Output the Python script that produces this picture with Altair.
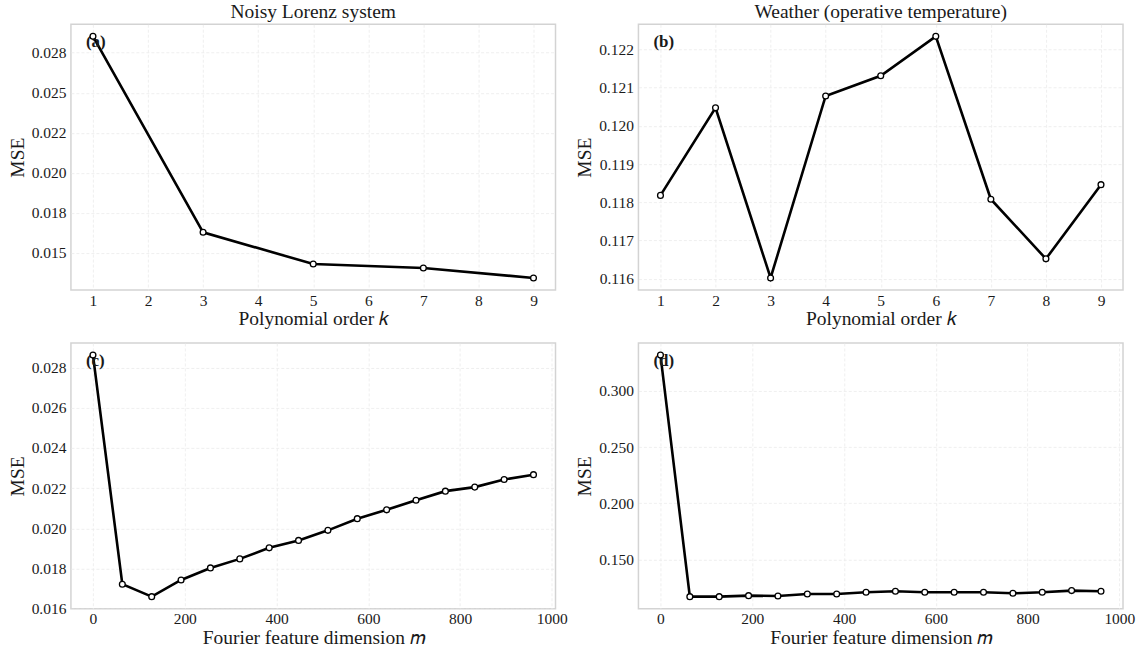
import altair as alt
import pandas as pd

# ---- data ----
poly_k_lorenz = [1, 3, 5, 7, 9]
mse_poly_lorenz = [0.02852, 0.01629, 0.01431, 0.01406, 0.01344]

poly_k_weather = [1, 2, 3, 4, 5, 6, 7, 8, 9]
mse_poly_weather = [0.11818, 0.12047, 0.11602, 0.12078, 0.12131, 0.12234, 0.11808, 0.11652, 0.11846]

fourier_m = [0, 64, 128, 192, 256, 320, 384, 448, 512, 576, 640, 704, 768, 832, 896, 960]
mse_fourier_lorenz = [0.02862, 0.01722, 0.01660, 0.01743, 0.01803, 0.01848, 0.01903, 0.01940,
                      0.01990, 0.02048, 0.02092, 0.02140, 0.02185, 0.02205, 0.02243, 0.02267]
mse_fourier_weather = [0.3317, 0.1171, 0.1171, 0.1180, 0.1177, 0.1195, 0.1195, 0.1210,
                       0.1219, 0.1210, 0.1210, 0.1210, 0.1201, 0.1210, 0.1225, 0.1219]

poly_ticks = [1, 2, 3, 4, 5, 6, 7, 8, 9]
fourier_ticks = [0, 200, 400, 600, 800, 1000]
yticks_a = [0.015, 0.0175, 0.02, 0.0225, 0.025, 0.0275]
yticks_b = [0.116, 0.117, 0.118, 0.119, 0.120, 0.121, 0.122]
yticks_c = [0.016, 0.018, 0.020, 0.022, 0.024, 0.026, 0.028]
yticks_d = [0.150, 0.200, 0.250, 0.300]

titles = ["Noisy Lorenz system", "Weather (operative temperature)"]
labels = ["(a)", "(b)", "(c)", "(d)"]
xtitle_poly = "Polynomial order \U0001D458"
xtitle_fourier = "Fourier feature dimension \U0001D45A"

FONT = "Liberation Serif"
TXT = "#1a1a1a"
W, H = 485, 266


def margin_domain(vals, frac=0.05):
    lo, hi = min(vals), max(vals)
    pad = (hi - lo) * frac
    return [lo - pad, hi + pad]


def axis(label_pad, title_pad, **kw):
    return alt.Axis(labelFont=FONT, titleFont=FONT, labelFontSize=15.5, titleFontSize=19.5,
                    labelColor=TXT, titleColor=TXT, titleFontWeight="normal",
                    domain=False, ticks=False, grid=True, gridColor="#ebebeb",
                    gridDash=[3, 2], gridWidth=0.8, labelPadding=label_pad,
                    titlePadding=title_pad, **kw)


def panel(xs, ys, label, xtitle, xticks, yticks, xdom, title=None):
    df = pd.DataFrame({"x": xs, "y": ys})
    ydom = margin_domain(ys)
    xenc = alt.X("x:Q", scale=alt.Scale(domain=xdom, nice=False, zero=False),
                 axis=axis(3, 1, values=xticks, title=xtitle, format="d"))
    yenc = alt.Y("y:Q", scale=alt.Scale(domain=ydom, nice=False, zero=False),
                 axis=axis(5, 4, values=yticks, format=".3f", title="MSE"))
    base = alt.Chart(df).encode(x=xenc, y=yenc)
    line = base.mark_line(color="black", strokeWidth=2.6)
    pts = base.mark_circle(fill="white", stroke="black", strokeWidth=1.3, size=34, opacity=1)
    txt = alt.Chart(pd.DataFrame({"t": [label]})).mark_text(
        font=FONT, fontWeight="bold", fontSize=17, align="left", baseline="middle", color=TXT
    ).encode(x=alt.value(15), y=alt.value(18), text="t:N")
    ch = alt.layer(line, txt, pts).properties(width=W, height=H)
    if title:
        ch = ch.properties(title=alt.TitleParams(title, font=FONT, fontSize=19.5,
                                                 fontWeight="normal", color=TXT, offset=2))
    return ch


a = panel(poly_k_lorenz, mse_poly_lorenz, labels[0], xtitle_poly, poly_ticks, yticks_a,
          [0.6, 9.4], titles[0])
b = panel(poly_k_weather, mse_poly_weather, labels[1], xtitle_poly, poly_ticks, yticks_b,
          [0.6, 9.4], titles[1])
c = panel(fourier_m, mse_fourier_lorenz, labels[2], xtitle_fourier, fourier_ticks, yticks_c,
          margin_domain(fourier_m))
d = panel(fourier_m, mse_fourier_weather, labels[3], xtitle_fourier, fourier_ticks, yticks_d,
          margin_domain(fourier_m))

chart = alt.concat(a, b, c, d, columns=2, spacing={"row": 13, "column": 5}).properties(
    padding={"left": 6, "top": 0, "right": 5, "bottom": 0}
).configure(
    font=FONT
).configure_view(
    stroke="#d3d3d3", strokeWidth=1.5
).configure_title(
    font=FONT, fontSize=19.5, fontWeight="normal", color=TXT, anchor="middle", offset=2
)

chart.save("out.html", embed_options={"renderer": "svg", "actions": False})
